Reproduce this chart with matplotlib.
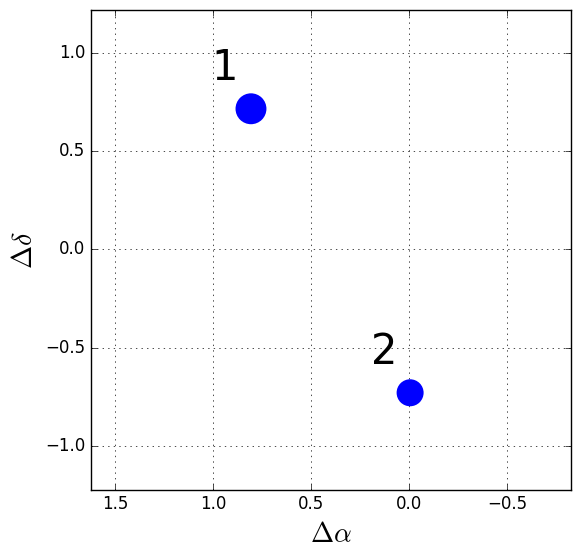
import matplotlib
matplotlib.use('Agg')
import matplotlib.pyplot as plt

plt.style.use('classic')

# offsets of the two sources
labels = ['1', '2']
d_alpha = [0.806, -0.006]
d_delta = [0.717, -0.73]
sizes = [495, 378]

fig = plt.figure(figsize=(5.8, 5.58), dpi=100, facecolor='white')
ax = fig.add_axes([0.157, 0.122, 0.8275, 0.86])

ax.scatter(d_alpha, d_delta, s=sizes, color='blue', edgecolors='none', zorder=3)
for lab, x, y in zip(labels, d_alpha, d_delta):
    ax.text(x + 0.134, y + 0.146, lab, fontsize=30, ha='center', va='baseline')

ax.set_xlim(1.622, -0.827)
ax.set_ylim(-1.225, 1.22)
ax.set_xticks([1.5, 1.0, 0.5, 0.0, -0.5])
ax.set_yticks([-1.0, -0.5, 0.0, 0.5, 1.0])
ax.grid(True)
ax.set_xlabel(r'$\Delta\alpha$', fontsize=20)
ax.set_ylabel(r'$\Delta\delta$', fontsize=20)

fig.savefig('out.png', dpi=100, facecolor='white')
